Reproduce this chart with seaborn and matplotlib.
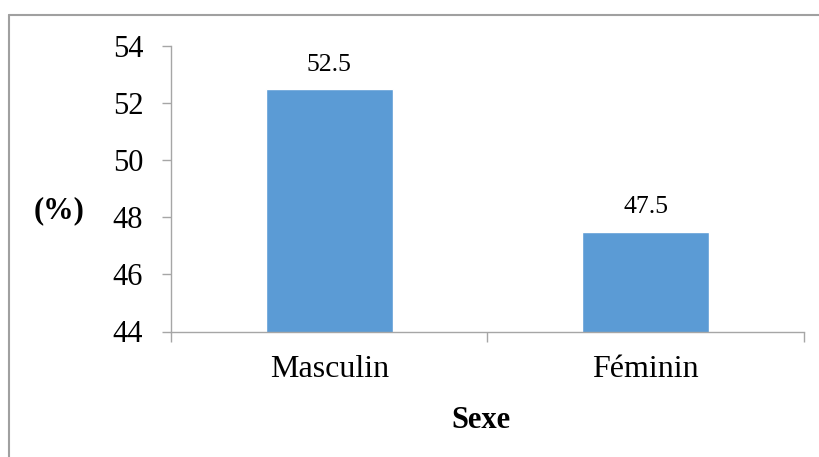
import matplotlib
matplotlib.use("Agg")
import matplotlib.pyplot as plt
from matplotlib.lines import Line2D
import seaborn as sns
import numpy as np

categories = ["Masculin", "Féminin"]
values = [52.5, 47.5]
yticks = [44, 46, 48, 50, 52, 54]

sns.set_style("white")
plt.rcParams["font.family"] = ["Liberation Serif", "DejaVu Serif"]
plt.rcParams["text.color"] = "black"
plt.rcParams["xtick.labelcolor"] = "black"
plt.rcParams["ytick.labelcolor"] = "black"

fig = plt.figure(figsize=(8.2, 4.57), dpi=100)
W, H = 820, 457
ax = fig.add_axes([171 / W, 1 - 331.5 / H, (804 - 171) / W, (331.5 - 46) / H])

sns.barplot(x=categories, y=values, color="#5B9BD5", saturation=1, width=0.4, ax=ax)

ax.set_ylim(44, 54)
ax.set_yticks(yticks)
ax.set_yticklabels([str(t) for t in yticks])
ax.set_xlim(-0.5, len(categories) - 0.5)

spine_color = "#A6A6A6"
for s in ["top", "right"]:
    ax.spines[s].set_visible(False)
for s in ["left", "bottom"]:
    ax.spines[s].set_color(spine_color)
    ax.spines[s].set_linewidth(1.0)

ax.tick_params(axis="y", which="major", direction="out", length=6.5, width=1.0,
               color=spine_color, labelsize=22, pad=13.5, left=True, labelcolor="black")
ax.tick_params(axis="x", which="major", length=0, labelsize=23, pad=17, labelcolor="black")
ax.set_xticks(np.arange(len(categories) + 1) - 0.5, minor=True)
ax.tick_params(axis="x", which="minor", direction="out", length=7, width=1.0,
               color=spine_color, bottom=True)

for c in ax.containers:
    ax.bar_label(c, labels=[f"{v:.1f}" for v in values], padding=9.5, fontsize=18.5,
                 color="black")

ax.set_xlabel("")
ax.set_ylabel("")
fig.text(481 / W, 1 - 421 / H, "Sexe", ha="center", va="center", fontsize=22,
         fontweight="bold", color="black")
fig.text(59 / W, 1 - 211 / H, "(%)", ha="center", va="center", fontsize=22,
         fontweight="bold", color="black")

frame_color = "#A0A0A0"
fig.add_artist(Line2D([9 / W, 9 / W], [0, 1 - 15 / H], transform=fig.transFigure,
                      color=frame_color, linewidth=1.5))
fig.add_artist(Line2D([9 / W, 1], [1 - 15 / H, 1 - 15 / H], transform=fig.transFigure,
                      color=frame_color, linewidth=1.5))

fig.savefig("out.png", dpi=100)
